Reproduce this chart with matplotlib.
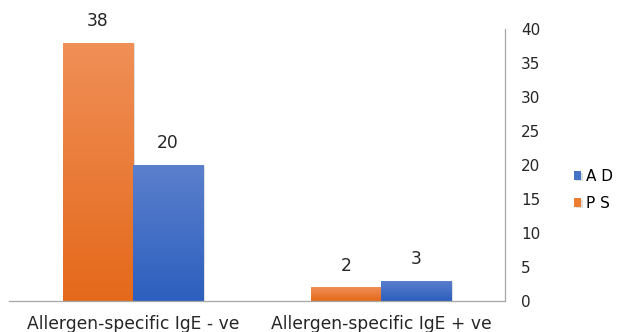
import numpy as np
import matplotlib
matplotlib.use('Agg')
import matplotlib.pyplot as plt
from matplotlib.colors import LinearSegmentedColormap
import matplotlib.patheffects as pe

categories = ['Allergen-specific IgE - ve', 'Allergen-specific IgE + ve']
ps_values = [38, 2]
ad_values = [20, 3]

plt.rcParams['font.family'] = ['DejaVu Sans']

orange_cmap = LinearSegmentedColormap.from_list('og', ['#E4691B', '#F08F57'])
blue_cmap = LinearSegmentedColormap.from_list('bl', ['#2D5FBE', '#5B80CD'])

fig = plt.figure(figsize=(6.19, 3.32), dpi=100)
ax = fig.add_axes([0.0145, 0.0934, 0.8015, 0.8193])

x = np.arange(len(categories))
width = 0.283
bars_ps = ax.bar(x - width / 2, ps_values, width, color='#ED7D31', label='P S', zorder=2)
bars_ad = ax.bar(x + width / 2, ad_values, width, color='#4472C4', label='A D', zorder=2)

# gradient fill + soft shadow for each bar
grad = np.linspace(0, 1, 256).reshape(-1, 1)
for bars, cmap in [(bars_ps, orange_cmap), (bars_ad, blue_cmap)]:
    for b in bars:
        bx, by = b.get_x(), b.get_y()
        bw, bh = b.get_width(), b.get_height()
        b.set_path_effects([pe.SimplePatchShadow(offset=(1.5, -1), alpha=0.25, shadow_rgbFace='gray'),
                            pe.Normal()])
        im = ax.imshow(grad, extent=[bx, bx + bw, by, by + bh], origin='lower',
                       aspect='auto', cmap=cmap, zorder=2.5)
        im.set_clip_path(b)

for bars in (bars_ps, bars_ad):
    ax.bar_label(bars, padding=9, fontsize=12.3, color='#262626')

ax.set_xlim(-0.5, 1.5)
ax.set_ylim(0, 40)
ax.set_yticks(range(0, 41, 5))
ax.set_xticks(x)
ax.set_xticklabels(categories, fontsize=12.3, color='#262626')
ax.yaxis.tick_right()
ax.tick_params(axis='y', length=0, pad=11.5, labelsize=11, labelcolor='#262626')
ax.tick_params(axis='x', length=0, pad=10)

for s in ['top', 'left']:
    ax.spines[s].set_visible(False)
for s in ['bottom', 'right']:
    ax.spines[s].set_color('#A6A6A6')
    ax.spines[s].set_linewidth(0.9)

handles, labels = ax.get_legend_handles_labels()
ax.legend(handles[::-1], labels[::-1], loc='center left', bbox_to_anchor=(1.138, 0.408),
          frameon=False, fontsize=11, handlelength=0.5, handleheight=0.5,
          handletextpad=0.3, labelspacing=0.8, borderpad=0.0, borderaxespad=0.0)

fig.savefig('out.png', dpi=100)
